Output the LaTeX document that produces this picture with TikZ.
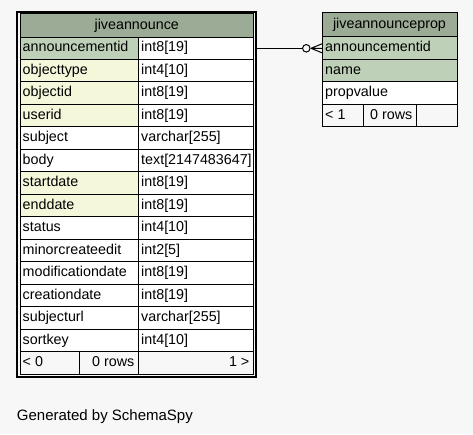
\documentclass[tikz,border=0pt]{standalone}
\usepackage{fontspec}
\setmainfont{Liberation Sans}
\definecolor{bg}{HTML}{F7F7F7}
\definecolor{hdr}{HTML}{9BAB96}
\definecolor{pk}{HTML}{BED1B8}
\definecolor{idx}{HTML}{F4F7DA}
\begin{document}
\begin{tikzpicture}[x=1pt,y=-1pt,
  font=\fontsize{14.3}{16}\selectfont,
  cell/.style={draw=black, line width=1pt},
  txt/.style={anchor=base west, inner sep=0pt},
  txtr/.style={anchor=base east, inner sep=0pt},
  txtc/.style={anchor=base, inner sep=0pt}]
\useasboundingbox[fill=bg] (0,0) rectangle (473,434);

% ---------- main table: jiveannounce ----------
\filldraw[fill=hdr,cell] (20,13.5) rectangle (253.5,37);
\node[txtc] (mainhead) at (136.75,29.3) {jiveannounce};
\foreach [count=\i] \n/\t/\c in {
  announcementid/int8[19]/pk,
  objecttype/int4[10]/idx,
  objectid/int8[19]/idx,
  userid/int8[19]/idx,
  subject/varchar[255]/white,
  body/text[2147483647]/white,
  startdate/int8[19]/idx,
  enddate/int8[19]/idx,
  status/int4[10]/white,
  minorcreateedit/int2[5]/white,
  modificationdate/int8[19]/white,
  creationdate/int8[19]/white,
  subjecturl/varchar[255]/white,
  sortkey/int4[10]/white}{
  \pgfmathsetmacro\rt{37+(\i-1)*22.47}
  \pgfmathsetmacro\rb{\rt+22.47}
  \pgfmathsetmacro\bl{\rt+14.9}
  \filldraw[fill=\c,cell] (20,\rt) rectangle (138,\rb);
  \filldraw[fill=white,cell] (138,\rt) rectangle (253.5,\rb);
  \node[txt] (mn\i) at (22.5,\bl) {\n};
  \node[txt] (mt\i) at (141,\bl) {\t};
}
% footer
\filldraw[fill=bg,cell] (20,351.6) rectangle (79,374.1);
\filldraw[fill=bg,cell] (79,351.6) rectangle (138,374.1);
\filldraw[fill=bg,cell] (138,351.6) rectangle (253.5,374.1);
\node[txt] (mf1) at (22.5,366.5) {< 0};
\node[txtr] (mf2) at (134.5,366.5) {0 rows};
\node[txtr] (mf3) at (249.5,366.5) {1 >};
% outer thick border
\draw[line width=2pt] (16.5,11.7) rectangle (255.8,377.3);

% ---------- right table: jiveannounceprop ----------
\filldraw[fill=hdr,cell] (322,12.3) rectangle (457,36.7);
\node[txtc] (prophead) at (389.5,28.8) {jiveannounceprop};
\foreach [count=\i] \n/\c in {announcementid/pk, name/pk, propvalue/white}{
  \pgfmathsetmacro\rt{36.7+(\i-1)*22.5}
  \pgfmathsetmacro\rb{\rt+22.5}
  \pgfmathsetmacro\bl{\rt+14.9}
  \filldraw[fill=\c,cell] (322,\rt) rectangle (457,\rb);
  \node[txt] (pn\i) at (325,\bl) {\n};
}
\filldraw[fill=bg,cell] (322,104.2) rectangle (363.3,126.7);
\filldraw[fill=bg,cell] (363.3,104.2) rectangle (416,126.7);
\filldraw[fill=bg,cell] (416,104.2) rectangle (457,126.7);
\node[txt] (pf1) at (325,119.1) {< 1};
\node[txtr] (pf2) at (412.5,119.1) {0 rows};

% ---------- connector ----------
\coordinate (src) at (256.8,48.3);
\coordinate (dst) at (322,48.3);
\coordinate (crowtip) at (311,48.3);
\coordinate (crowup) at (322,43.8);
\coordinate (crowdn) at (322,52.8);
\node[circle,draw,line width=1pt,fill=bg,inner sep=0pt,minimum size=7.5pt] (odot) at (306.3,48.3) {};
\draw[line width=1pt] (src) -- (odot.west);
\draw[line width=1pt] (odot.east) -- (crowtip);
\draw[line width=1pt] (crowtip) -- (crowup) (crowtip) -- (dst) (crowtip) -- (crowdn);

% ---------- caption ----------
\node[txt,font=\fontsize{15}{17}\selectfont] (caption) at (16.7,420.5) {Generated by SchemaSpy};
\end{tikzpicture}
\end{document}
